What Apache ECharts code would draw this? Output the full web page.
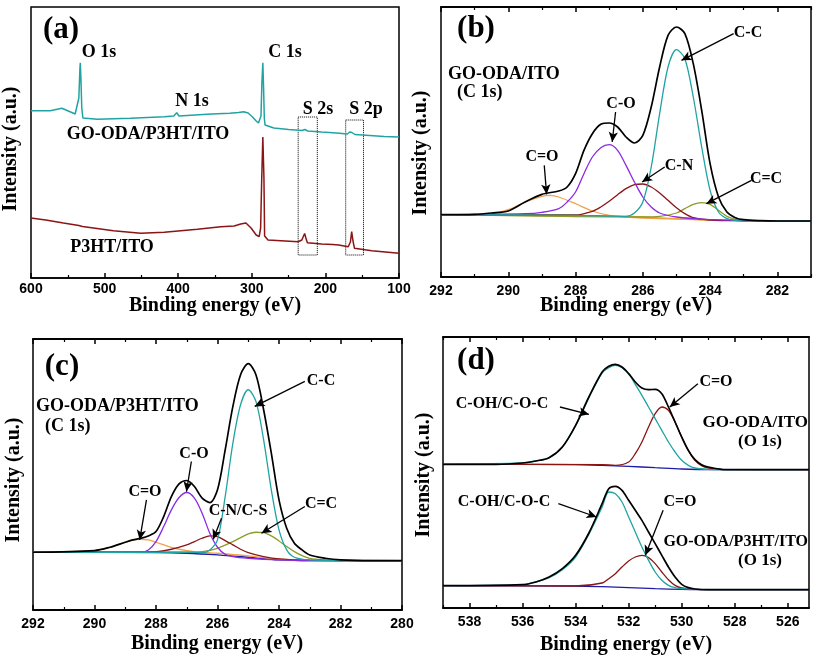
<!DOCTYPE html>
<html><head><meta charset="utf-8">
<script src="https://cdn.jsdelivr.net/npm/echarts@6/dist/echarts.min.js"></script>
<style>html,body{margin:0;padding:0;background:#fff}#c{width:814px;height:658px}</style>
</head><body><div id="c"></div>
<script>
// ---------- Panel (a): XPS survey spectra [binding energy (eV), intensity (a.u.)] ----------
const aRange = [100, 600];
const aGoOdaP3ht = [[600,167.3],[574,167.3],[558,169.7],[547,166.3],[540,164],[537.5,163],[535,180],[533.5,210],[533,215.3],[532.2,200],[531,170],[529.5,160],[528,159],[510,158.7],[465,159.7],[419,161.3],[406,162],[402,165.3],[399,162],[355,164],[330,164.7],[318,165.5],[311,166.3],[305,165],[299,161],[294,157],[291,155],[289,156],[287.5,162],[286.3,195],[285,215.3],[284,190],[283,160],[282,153],[280,151.3],[270,150],[250,148.5],[232,147.5],[228,148.5],[224,147],[205,146],[185,145],[170,144],[167,146],[164,145.5],[160,143.5],[140,142.5],[120,141.5],[100,141]];
const aP3ht = [[600,60],[580,58],[556,55],[535,52.5],[533,53.5],[530,51.5],[488,47.3],[451,44.7],[419,45.7],[374,48.7],[342,51.3],[324,52],[315,54],[308,55],[301,50],[294,43],[290,41.3],[288,50],[286.5,100],[285,141],[283.5,100],[282.6,42],[278,38],[237,36.3],[232,38],[230,41.5],[228.2,44.5],[226.5,40],[224.5,35.3],[205,34],[190,33.5],[182,33],[169,31.3],[166,36],[164.3,46.3],[162.5,37],[160.5,29.7],[137,27.3],[100,24.7]];
const aBoxes = [[237,161,211,23],[172.4,158,148.2,23]];

// ---------- Panel (b): GO-ODA/ITO C 1s ----------
const bRange = [281, 292];
const bLabels = [282,284,286,288,290,292];
const bMinor = [281,283,285,287,289,291];
const bEnvelope = [[292,187],[291,188],[290.5,192],[290,198],[289.5,225],[289,248],[288.5,258],[288.25,270],[288,310],[287.75,380],[287.5,430],[287.25,458],[287,462],[286.75,450],[286.5,420],[286.25,402],[286,425],[285.75,510],[285.5,630],[285.25,725],[285,750],[284.75,730],[284.5,640],[284.25,500],[284,340],[283.75,240],[283.5,195],[283.25,178],[283,172],[282.5,169],[282,168],[281,168]];
const bCC = [[292,187],[288,185],[287,183],[286.5,182],[286.25,192],[286,225],[285.75,330],[285.5,490],[285.25,630],[285,682],[284.75,655],[284.5,540],[284.25,390],[284,260],[283.75,195],[283.5,175],[283.25,170],[283,168],[281,168]];
const bCO = [[292,187],[289.5,190],[289,194],[288.5,205],[288.25,225],[288,255],[287.75,310],[287.5,360],[287.25,388],[287,397],[286.75,380],[286.5,335],[286.25,285],[286,240],[285.75,210],[285.5,192],[285,180],[284,172],[283,169],[281,168]];
const bCN = [[292,187],[288,186],[287.5,197],[287.25,210],[287,227],[286.75,247],[286.5,265],[286.25,277],[286,279],[285.75,270],[285.5,252],[285.25,230],[285,208],[284.75,190],[284.5,178],[284,171],[283,169],[281,168]];
const bCdO = [[292,187],[290.5,190],[290,202],[289.5,225],[289,242],[288.75,245],[288.5,240],[288,220],[287.5,198],[287,185],[286.5,180],[286,177],[285,174],[284,171],[283,169],[281,168]];
const bCdC = [[292,187],[286,180],[285.5,182],[285,192],[284.75,205],[284.5,218],[284.25,223],[284,218],[283.75,200],[283.5,182],[283.25,173],[283,169],[281,168]];
const bBase = [[292,187],[288,185],[287,183],[286,180],[285,175],[284,171],[283,169],[282,168],[281,168]];
const bArrows = [[283.3,730,284.85,650],[286.81,495,286.91,405],[288.93,335,288.86,248],[285.35,330,286.02,285],[282.77,290,284.11,220]];

// ---------- Panel (c): GO-ODA/P3HT/ITO C 1s ----------
const cRange = [280, 292];
const cLabels = [280,282,284,286,288,290,292];
const cMinor = [281,283,285,287,289,291];
const cEnvelope = [[292,173],[290,178],[289.5,188],[289,203],[288.75,210],[288.5,215],[288.25,222],[288,235],[287.75,280],[287.5,340],[287.25,378],[287,388],[286.75,370],[286.5,335],[286.25,322],[286,360],[285.75,480],[285.5,610],[285.25,705],[285,738],[284.75,705],[284.5,600],[284.25,470],[284,330],[283.75,245],[283.5,200],[283.25,180],[283,165],[282.5,155],[282,150],[281,148],[280,148]];
const cCC = [[292,173],[287,173],[286.5,172],[286.25,180],[286,210],[285.75,340],[285.5,500],[285.25,615],[285,660],[284.75,625],[284.5,510],[284.25,360],[284,240],[283.75,180],[283.5,158],[283,150],[282,148],[280,148]];
const cCO = [[292,173],[288.5,173],[288.25,180],[288,205],[287.75,250],[287.5,300],[287.25,337],[287,352],[286.75,335],[286.5,290],[286.25,230],[286,188],[285.75,167],[285.5,160],[285,155],[284,150],[283,148],[280,148]];
const cCN = [[292,173],[288,175],[287.5,182],[287,195],[286.75,205],[286.5,215],[286.25,222],[286,220],[285.75,208],[285.5,195],[285.25,182],[285,172],[284.5,160],[284,153],[283,149],[280,148]];
const cCdO = [[292,173],[290,178],[289.5,188],[289,203],[288.75,210],[288.5,212],[288.25,210],[288,203],[287.5,188],[287,178],[286.5,173],[286,170],[285,162],[284,152],[283,148],[280,148]];
const cCdC = [[292,173],[287,173],[286.5,175],[286,185],[285.5,205],[285,228],[284.75,233],[284.5,232],[284.25,222],[284,207],[283.75,190],[283.5,175],[283.25,163],[283,155],[282.5,150],[282,148],[280,148]];
const cBase = [[292,173],[288,172],[287,170],[286,165],[285,158],[284,150],[283,148],[280,148]];
const cArrows = [[283.16,685,284.79,610],[286.85,445,287.01,355],[288.31,330,288.53,210],[285.87,275,286.14,212],[283.16,310,284.57,230]];

// ---------- Panel (d): O 1s ----------
const dRange = [525.2, 539];
const dLabels = [526,528,530,532,534,536,538];
const dMinor = [527,529,531,533,535,537,539];
const dUpEnvelope = [[539,431],[537,431],[536,435],[535.5,441],[535,451],[534.5,483],[534,548],[533.5,633],[533,708],[532.75,725],[532.5,731],[532.25,723],[532,703],[531.75,678],[531.5,660],[531.25,655],[531,656],[530.75,643],[530.5,603],[530.25,558],[530,513],[529.75,473],[529.5,445],[529.25,430],[529,423],[528.5,416],[528,415],[525.2,415]];
const dUpCOH = [[539,431],[536,435],[535.5,441],[535,451],[534.5,483],[534,547],[533.5,631],[533,705],[532.75,721],[532.5,728],[532.25,721],[532,703],[531.75,671],[531.5,638],[531.25,603],[531,568],[530.75,533],[530.5,498],[530.25,468],[530,443],[529.75,428],[529.5,420],[529,416],[528,415],[525.2,415]];
const dUpCdO = [[539,431],[533,430],[532.5,428],[532,438],[531.75,463],[531.5,498],[531.25,543],[531,583],[530.75,603],[530.5,593],[530.25,558],[530,513],[529.75,473],[529.5,443],[529.25,427],[529,420],[528.5,416],[525.2,415]];
const dUpBase = [[539,431],[534,430],[533,428],[532,425],[531,421],[530,417],[529,415],[525.2,415]];
const dLoEnvelope = [[539,67],[536,70],[535.5,78],[535,93],[534.5,118],[534,158],[533.5,225],[533,313],[532.75,358],[532.5,365],[532.25,353],[532,323],[531.75,293],[531.5,263],[531.25,228],[531,193],[530.75,158],[530.5,123],[530.25,93],[530,71],[529.75,61],[529.5,57],[529,55],[525.2,55]];
const dLoCOH = [[539,67],[536,70],[535.5,78],[535,91],[534.5,115],[534,153],[533.5,221],[533,303],[532.75,348],[532.5,343],[532.25,318],[532,273],[531.75,228],[531.5,183],[531.25,143],[531,108],[530.75,83],[530.5,68],[530.25,61],[530,58],[529,55],[525.2,55]];
const dLoCdO = [[539,67],[534,66],[533,75],[532.75,88],[532.5,103],[532.25,123],[532,141],[531.75,153],[531.5,158],[531.25,151],[531,133],[530.75,108],[530.5,85],[530.25,68],[530,60],[529.5,56],[529,55],[525.2,55]];
const dLoBase = [[539,67],[534,66],[533,64],[532,61],[531,58],[530,56],[529,55],[525.2,55]];
const dArrows = [[534.59,603,533.5,581],[529.39,673,530.45,603],[534.65,313,533.21,273],[530.7,293,531.37,158]];

// ---------- styling ----------
const SERIF = "'Liberation Serif','Times New Roman',serif";
const SANS = "'Liberation Sans',Arial,sans-serif";
const C = {black:'#000000', teal:'#22a3a3', red:'#8b1414', purple:'#8a2be2', orange:'#f2a04c', olive:'#8c9a2a', blue:'#1c1ca8', gold:'#d8aa10'};

const grids = [
  {left:31, top:7, width:368, height:271},
  {left:441, top:7, width:370, height:270},
  {left:33, top:339, width:369, height:271},
  {left:443, top:337, width:366, height:271}
].map(g => Object.assign({show:true, borderColor:'#000', borderWidth:1.5, backgroundColor:'transparent', containLabel:false}, g));

const yMax = [271, 810, 812, 813];
const xAxes = [];
const primaryX = [];
function addAxis(o){ xAxes.push(o); return xAxes.length-1; }
const baseAx = (gi, range) => ({type:'value', gridIndex:gi, inverse:true, min:range[0], max:range[1], splitLine:{show:false}, axisLine:{show:true, lineStyle:{color:'#000', width:1.5}}});

// panel a
primaryX[0] = addAxis(Object.assign(baseAx(0, aRange), {position:'bottom', interval:100,
  axisTick:{show:true, inside:true, length:5, lineStyle:{color:'#000', width:1.5}},
  minorTick:{show:true, splitNumber:2, length:3, lineStyle:{color:'#000', width:1.2}},
  axisLabel:{show:true, margin:4, color:'#000', fontFamily:SANS, fontWeight:'bold', fontSize:14}}));
// panels b,c,d
[[1,bRange,bLabels,bMinor],[2,cRange,cLabels,cMinor],[3,dRange,dLabels,dMinor]].forEach(([gi,range,labs,minor]) => {
  primaryX[gi] = addAxis(Object.assign(baseAx(gi, range), {position:'bottom',
    axisTick:{show:true, inside:true, length:5, customValues:labs, lineStyle:{color:'#000', width:1.5}},
    axisLabel:{show:true, margin:7, customValues:labs, color:'#000', fontFamily:SANS, fontWeight:'bold', fontSize:14}}));
  addAxis(Object.assign(baseAx(gi, range), {position:'bottom',
    axisTick:{show:true, inside:true, length:3, customValues:minor, lineStyle:{color:'#000', width:1.2}},
    axisLabel:{show:false}}));
  addAxis(Object.assign(baseAx(gi, range), {position:'top',
    axisTick:{show:true, inside:true, length:5, customValues:labs, lineStyle:{color:'#000', width:1.5}},
    axisLabel:{show:false}}));
  addAxis(Object.assign(baseAx(gi, range), {position:'top',
    axisTick:{show:true, inside:true, length:3, customValues:minor, lineStyle:{color:'#000', width:1.2}},
    axisLabel:{show:false}}));
});

const yAxes = yMax.map((m, gi) => ({type:'value', gridIndex:gi, min:0, max:m, axisLine:{show:false}, axisTick:{show:false}, axisLabel:{show:false}, splitLine:{show:false}}));

function line(gi, data, color, width, smooth){
  return {type:'line', xAxisIndex:primaryX[gi], yAxisIndex:gi, data:data, showSymbol:false, symbol:'none',
    smooth: smooth, lineStyle:{color:color, width:width}, itemStyle:{color:color}, silent:true, animation:false, z:3};
}
function arrows(list){
  return {silent:true, symbol:['none','arrow'], symbolSize:[7,10], animation:false, label:{show:false},
    lineStyle:{color:'#000', width:1.3, type:'solid'}, emphasis:{disabled:true},
    data: list.map(a => [{coord:[a[0],a[1]]},{coord:[a[2],a[3]]}])};
}

const series = [];
// a
const aTealS = line(0, aGoOdaP3ht, C.teal, 1.5, false);
aTealS.markArea = {silent:true, itemStyle:{color:'rgba(0,0,0,0)', borderColor:'#000', borderWidth:1, borderType:'dotted'},
  data: aBoxes.map(b => [{coord:[b[0],b[1]]},{coord:[b[2],b[3]]}])};
series.push(aTealS, line(0, aP3ht, C.red, 1.5, false));
// b
const SM = 0.3;
series.push(line(1, bBase, C.gold, 1.3, SM), line(1, bCdO, C.orange, 1.3, SM), line(1, bCdC, C.olive, 1.3, SM),
  line(1, bCN, C.red, 1.3, SM), line(1, bCO, C.purple, 1.3, SM), line(1, bCC, C.teal, 1.3, SM));
const bEnvS = line(1, bEnvelope, C.black, 1.7, SM); bEnvS.markLine = arrows(bArrows); series.push(bEnvS);
// c
series.push(line(2, cBase, C.blue, 1.3, SM), line(2, cCdO, C.orange, 1.3, SM), line(2, cCdC, C.olive, 1.3, SM),
  line(2, cCN, C.red, 1.3, SM), line(2, cCO, C.purple, 1.3, SM), line(2, cCC, C.teal, 1.3, SM));
const cEnvS = line(2, cEnvelope, C.black, 1.7, SM); cEnvS.markLine = arrows(cArrows); series.push(cEnvS);
// d
series.push(line(3, dUpBase, C.blue, 1.3, SM), line(3, dUpCdO, C.red, 1.3, SM), line(3, dUpCOH, C.teal, 1.3, SM),
  line(3, dLoBase, C.blue, 1.3, SM), line(3, dLoCdO, C.red, 1.3, SM), line(3, dLoCOH, C.teal, 1.3, SM),
  line(3, dUpEnvelope, C.black, 1.7, SM));
const dLoEnvS = line(3, dLoEnvelope, C.black, 1.7, SM); dLoEnvS.markLine = arrows(dArrows); series.push(dLoEnvS);

// ---------- text annotations ----------
function txt(text, x, y, size, align, rot){
  return {type:'text', x:x, y:y, rotation: rot || 0, silent:true, z:10,
    style:{text:text, fill:'#000', font:'bold ' + size + 'px ' + SERIF, align: align || 'center', verticalAlign:'middle', textAlign: align || 'center', textVerticalAlign:'middle'}};
}
const graphics = [
  // panel a
  txt('(a)', 61, 30, 31), txt('O 1s', 99, 52, 18), txt('N 1s', 192, 101, 18), txt('C 1s', 285, 52, 18),
  txt('S 2s', 318, 109, 18), txt('S 2p', 366, 109, 18), txt('GO-ODA/P3HT/ITO', 148, 134, 18), txt('P3HT/ITO', 112, 247, 18),
  txt('Intensity (a.u.)', 11, 149, 20, 'center', Math.PI/2), txt('Binding energy (eV)', 215, 306, 20),
  // panel b
  txt('(b)', 476, 29, 31), txt('GO-ODA/ITO', 448, 74, 18, 'left'), txt('(C 1s)', 457, 92, 18, 'left'),
  txt('C-C', 748, 33, 16), txt('C-O', 621, 104, 16), txt('C=O', 542, 157, 16), txt('C-N', 679, 166, 16), txt('C=C', 766, 179, 16),
  txt('Intensity (a.u.)', 421, 153, 20, 'center', Math.PI/2), txt('Binding energy (eV)', 626, 306, 20),
  // panel c
  txt('(c)', 62, 367, 31), txt('GO-ODA/P3HT/ITO', 36, 406, 18, 'left'), txt('(C 1s)', 45, 426, 18, 'left'),
  txt('C-C', 321, 381, 16), txt('C-O', 194, 454, 16), txt('C=O', 145, 492, 16), txt('C-N/C-S', 238, 511, 16), txt('C=C', 321, 504, 16),
  txt('Intensity (a.u.)', 14, 480, 20, 'center', Math.PI/2), txt('Binding energy (eV)', 217, 644, 20),
  // panel d
  txt('(d)', 476, 361, 31), txt('C-OH/C-O-C', 502, 404, 16), txt('C=O', 716, 382, 16),
  txt('GO-ODA/ITO', 808, 423, 17, 'right'), txt('(O 1s)', 760, 442, 17),
  txt('C-OH/C-O-C', 504, 502, 16), txt('C=O', 680, 502, 16),
  txt('GO-ODA/P3HT/ITO', 808, 542, 16, 'right'), txt('(O 1s)', 760, 561, 17),
  txt('Intensity (a.u.)', 424, 475, 20, 'center', Math.PI/2), txt('Binding energy (eV)', 626, 645, 20)
];

const chart = echarts.init(document.getElementById('c'), null, {renderer:'canvas'});
chart.setOption({
  animation:false,
  backgroundColor:'#ffffff',
  grid: grids,
  xAxis: xAxes,
  yAxis: yAxes,
  series: series,
  graphic: graphics
});
</script></body></html>
